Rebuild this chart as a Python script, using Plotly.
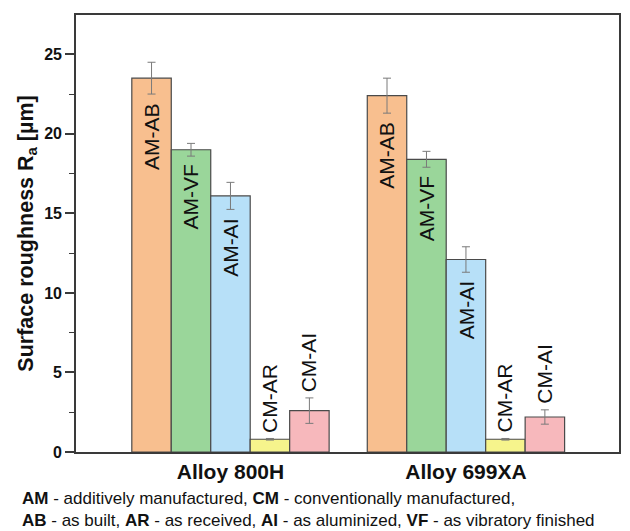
import plotly.graph_objects as go

# Surface roughness Ra of two alloys for different processing conditions
alloys = ["Alloy 800H", "Alloy 699XA"]
conditions = ["AM-AB", "AM-VF", "AM-AI", "CM-AR", "CM-AI"]
ra_800h = [23.5, 19.0, 16.1, 0.8, 2.6]
ra_699xa = [22.4, 18.4, 12.1, 0.8, 2.2]
err_800h = [1.0, 0.4, 0.85, 0.05, 0.8]
err_699xa = [1.1, 0.5, 0.8, 0.05, 0.45]
colors = ["#F8BF8F", "#9AD69A", "#B7E0F8", "#F6F48C", "#F7B8BC"]
y_ticks = [0, 5, 10, 15, 20, 25]
y_minor = [2.5, 7.5, 12.5, 17.5, 22.5]

values = list(zip(ra_800h, ra_699xa))
errors = list(zip(err_800h, err_699xa))

bar_w = 0.1676
n = len(conditions)
FONT = "Liberation Sans, Arial, sans-serif"
INK = "#111111"

fig = go.Figure()
annotations = []
for k, cond in enumerate(conditions):
    xs = [g + (k - (n - 1) / 2) * bar_w for g in range(len(alloys))]
    fig.add_trace(go.Bar(
        x=xs, y=list(values[k]), width=bar_w,
        marker=dict(color=colors[k], line=dict(color="#4a4a4a", width=1.2)),
        error_y=dict(type="data", array=list(errors[k]), color="#7a7a7a",
                     thickness=1, width=4),
        showlegend=False,
    ))
    # rotated condition labels: inside below the error bar for AM, above for CM
    for x, v, e in zip(xs, values[k], errors[k]):
        inside = cond.startswith("AM")
        annotations.append(dict(
            x=x, y=(v - e) if inside else (v + e), xref="x", yref="y", text=cond,
            textangle=-90, showarrow=False, xanchor="center",
            yanchor="top" if inside else "bottom", yshift=-7 if inside else 4,
            font=dict(family=FONT, size=21, color=INK)))

footnote = ("<b>AM</b> - additively manufactured, <b>CM</b> - conventionally manufactured,<br>"
            "<b>AB</b> - as built, <b>AR</b> - as received, <b>AI</b> - as aluminized, "
            "<b>VF</b> - as vibratory finished")
annotations.append(dict(x=0, y=0, xref="paper", yref="paper", text=footnote,
                        showarrow=False, align="left", xanchor="left", yanchor="bottom",
                        xshift=-55, yshift=-79, borderpad=0,
                        font=dict(family=FONT, size=17, color=INK)))

axis_line = dict(showline=True, linecolor="#3a3a3a", linewidth=1.6, mirror=True)

fig.update_layout(
    width=630, height=531,
    margin=dict(l=76, r=9, t=15, b=79),
    paper_bgcolor="white", plot_bgcolor="white",
    barmode="overlay",
    annotations=annotations,
    font=dict(family=FONT, color=INK),
    xaxis=dict(range=[-0.656, 1.650], tickvals=list(range(len(alloys))), ticktext=alloys,
               ticks="", showgrid=False, zeroline=False,
               tickfont=dict(family=FONT, size=21, color=INK, weight="bold"),
               ticklabelstandoff=0, **axis_line),
    yaxis=dict(range=[0, 27.47], tickvals=y_ticks, ticks="outside", ticklen=9,
               tickwidth=1.5, tickcolor="#3a3a3a", showgrid=False, zeroline=False,
               tickfont=dict(family=FONT, size=16, color=INK, weight="bold"),
               ticklabelstandoff=0,
               title=dict(text="Surface roughness R<sub>a</sub> [µm]",
                          font=dict(family=FONT, size=21.5, color=INK, weight="bold"),
                          standoff=5),
               minor=dict(tickvals=y_minor, ticks="outside",
                          ticklen=5, tickwidth=1.2, tickcolor="#3a3a3a"),
               **axis_line),
)

fig.write_html("out.html")
